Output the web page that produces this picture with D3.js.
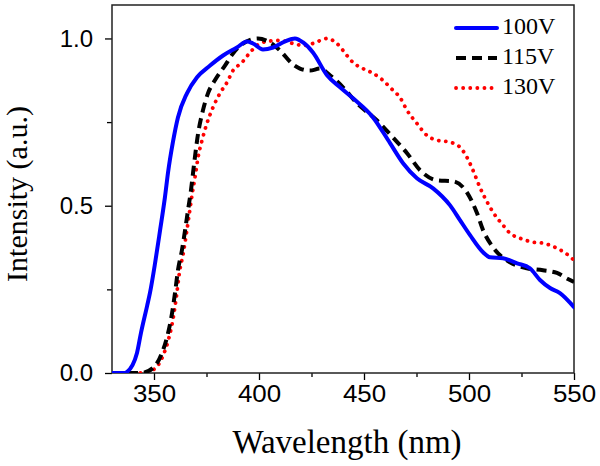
<!DOCTYPE html>
<html>
<head>
<meta charset="utf-8">
<script src="https://cdn.jsdelivr.net/npm/d3@7/dist/d3.min.js"></script>
<style>
body { margin: 0; background: #fff; }
svg { display: block; }
</style>
</head>
<body>
<svg id="chart" width="600" height="466"></svg>
<script>
// ---- data ----
const seriesNames = ["100V", "115V", "130V"];
const seriesColors = ["#0000ff", "#000000", "#ff0000"];

const wl100 = [330, 336.2, 337.1, 341.9, 343.8, 346.7, 348.1, 350.5, 352.9, 355.2, 356.7, 359.0, 361.4, 365.7, 370.5, 376.7, 382.9, 389.5, 394.3, 397.1, 401.9, 406.7, 412.4, 417.1, 421.0, 425.7, 432.4, 438.6, 444.8, 454.3, 462.4, 468.6, 475.2, 482.9, 491.0, 495.7, 500.5, 506.7, 510.0, 516.2, 522.9, 529.0, 533.8, 538.6, 543.3, 550];
const int100 = [0, 0, 0.003, 0.06, 0.12, 0.2, 0.24, 0.328, 0.427, 0.525, 0.6, 0.69, 0.764, 0.836, 0.884, 0.919, 0.949, 0.973, 0.991, 0.985, 0.967, 0.973, 0.991, 1.0, 0.988, 0.958, 0.890, 0.854, 0.821, 0.764, 0.687, 0.627, 0.582, 0.552, 0.501, 0.457, 0.412, 0.361, 0.346, 0.343, 0.328, 0.313, 0.278, 0.254, 0.239, 0.197];

const wl115 = [330, 337.1, 343.8, 349.5, 353.8, 356.2, 358.6, 360.0, 361.4, 363.3, 364.8, 366.2, 367.6, 369.0, 371.0, 373.3, 375.7, 379.0, 383.8, 387.6, 392.4, 399.5, 405.2, 410.0, 415.7, 419.5, 424.3, 429.0, 433.8, 440.0, 446.7, 456.2, 463.8, 470.5, 476.7, 484.8, 492.4, 499.0, 503.8, 506.7, 511.4, 519.5, 527.6, 535.2, 541.9, 547.1, 550];
const int115 = [0, 0, 0, 0.015, 0.06, 0.107, 0.179, 0.239, 0.307, 0.367, 0.427, 0.487, 0.546, 0.62, 0.716, 0.785, 0.836, 0.875, 0.919, 0.955, 0.985, 1.0, 0.988, 0.964, 0.925, 0.910, 0.904, 0.910, 0.890, 0.854, 0.806, 0.755, 0.704, 0.657, 0.606, 0.576, 0.573, 0.540, 0.478, 0.427, 0.376, 0.331, 0.313, 0.307, 0.299, 0.281, 0.272];

const wl130 = [330, 337.1, 344.5, 350.2, 354.5, 356.9, 359.3, 360.7, 362.1, 364.0, 365.5, 366.9, 368.3, 369.7, 371.0, 372.9, 375.2, 378.1, 381.4, 384.8, 387.6, 391.9, 395.7, 399.0, 403.8, 410.0, 416.2, 421.0, 425.7, 432.4, 437.1, 441.9, 444.8, 449.5, 454.3, 459.0, 463.8, 467.1, 470.5, 475.2, 480.0, 484.8, 491.0, 495.7, 499.0, 501.9, 505.2, 509.0, 511.4, 516.2, 519.5, 524.3, 530.5, 535.2, 541.9, 549.0, 550];
const int130 = [0, 0, 0, 0.012, 0.055, 0.1, 0.17, 0.23, 0.3, 0.36, 0.42, 0.48, 0.54, 0.592, 0.645, 0.696, 0.746, 0.794, 0.836, 0.869, 0.904, 0.928, 0.958, 0.979, 0.991, 0.994, 0.985, 0.979, 0.985, 1.0, 0.985, 0.949, 0.928, 0.910, 0.896, 0.875, 0.845, 0.824, 0.785, 0.746, 0.710, 0.696, 0.690, 0.675, 0.645, 0.606, 0.555, 0.507, 0.481, 0.442, 0.418, 0.403, 0.391, 0.388, 0.373, 0.343, 0.337];

const xMajorTicks = [350, 400, 450, 500, 550];
const xMinorTicks = [375, 425, 475, 525];
const yMajorTicks = [0, 0.5, 1.0];
const yMinorTicks = [0.25, 0.75];

const xTitle = "Wavelength (nm)";
const yTitle = "Intensity (a.u.)";

// ---- layout ----
const L = 112, R = 574, T = 5, B = 373;
const svg = d3.select("#chart");
const x = d3.scaleLinear().domain([330, 550]).range([L, R]);
const y = d3.scaleLinear().domain([0, 1.1]).range([B, T]);

const tickFont = "Liberation Sans, Arial, Helvetica, sans-serif";
const serif = "Liberation Serif, Times New Roman, Times, DejaVu Serif, serif";

// axes
const xAxis = d3.axisBottom(x).tickValues(xMajorTicks).tickFormat(d3.format("d")).tickSize(7).tickSizeOuter(0).tickPadding(5);
const xAxisMinor = d3.axisBottom(x).tickValues(xMinorTicks).tickFormat("").tickSize(4).tickSizeOuter(0);
const yAxis = d3.axisLeft(y).tickValues(yMajorTicks).tickFormat(d3.format(".1f")).tickSize(7).tickSizeOuter(0).tickPadding(12);
const yAxisMinor = d3.axisLeft(y).tickValues(yMinorTicks).tickFormat("").tickSize(5).tickSizeOuter(0);

function styleAxis(g) {
  g.attr("font-family", null).attr("font-size", null);
  g.select(".domain").remove();
  g.selectAll(".tick line").attr("stroke", "#000").attr("stroke-width", 1.3);
  g.selectAll(".tick text").attr("fill", "#000").style("font-family", tickFont).style("font-size", "24px");
}

svg.append("g").attr("transform", `translate(0,${B})`).call(xAxis).call(styleAxis)
  .selectAll(".tick text").attr("dy", "0.72em").attr("transform", "scale(1.08,1)");
svg.append("g").attr("transform", `translate(0,${B})`).call(xAxisMinor).call(styleAxis);
svg.append("g").attr("transform", `translate(${L},0)`).call(yAxis).call(styleAxis);
svg.append("g").attr("transform", `translate(${L},0)`).call(yAxisMinor).call(styleAxis);

// frame
svg.append("rect").attr("x", L).attr("y", T).attr("width", R - L).attr("height", B - T)
  .attr("fill", "none").attr("stroke", "#222").attr("stroke-width", 1.5);

// lines
const series = [
  { name: seriesNames[0], color: seriesColors[0], xs: wl100, ys: int100, dash: null, cap: "round" },
  { name: seriesNames[1], color: seriesColors[1], xs: wl115, ys: int115, dash: "10 6", cap: "butt" },
  { name: seriesNames[2], color: seriesColors[2], xs: wl130, ys: int130, dash: "0.1 7", cap: "round" }
];
const line = d3.line().x(d => x(d[0])).y(d => y(d[1])).curve(d3.curveMonotoneX);

svg.append("clipPath").attr("id", "plotclip").append("rect")
  .attr("x", L).attr("y", T).attr("width", R - L).attr("height", B - T);

const plotG = svg.append("g").attr("clip-path", "url(#plotclip)");
[series[2], series[1], series[0]].forEach(s => {
  const pts = s.xs.map((v, i) => [v, s.ys[i]]);
  plotG.append("path").datum(pts).attr("d", line)
    .attr("fill", "none").attr("stroke", s.color)
    .attr("stroke-width", s.dash === "0.1 7" ? 3.8 : 4)
    .attr("stroke-linecap", s.cap)
    .attr("stroke-linejoin", "round")
    .attr("stroke-dasharray", s.dash);
});

// legend
const legY = [28, 58, 88];
series.forEach((s, i) => {
  svg.append("line").attr("x1", 456).attr("x2", 497).attr("y1", legY[i]).attr("y2", legY[i])
    .attr("stroke", s.color).attr("stroke-width", s.dash === "0.1 7" ? 3.8 : 4)
    .attr("stroke-linecap", s.cap).attr("stroke-dasharray", s.dash);
  svg.append("text").attr("x", 502).attr("y", legY[i] + 6)
    .style("font-family", serif).style("font-size", "24px").attr("fill", "#000")
    .text(s.name);
});

// axis titles
svg.append("text").attr("x", 347).attr("y", 453).attr("text-anchor", "middle")
  .style("font-family", serif).style("font-size", "33px").attr("fill", "#000").text(xTitle);
svg.append("text").attr("transform", "translate(27,194) rotate(-90)").attr("text-anchor", "middle")
  .style("font-family", serif).style("font-size", "30px").attr("fill", "#000").text(yTitle);
</script>
</body>
</html>
